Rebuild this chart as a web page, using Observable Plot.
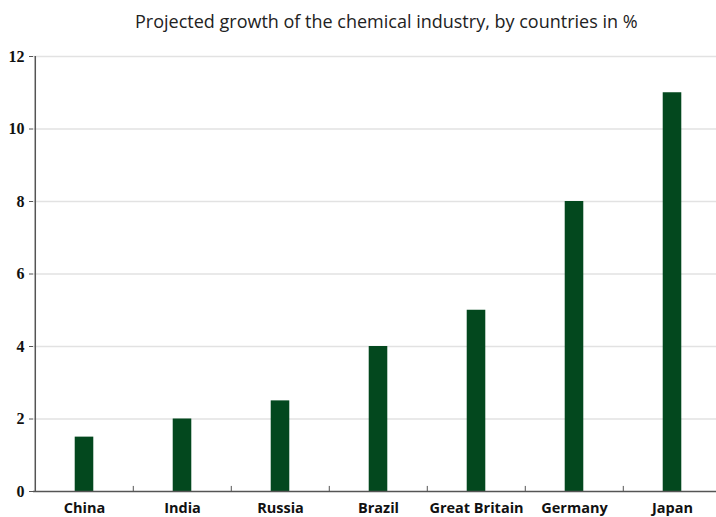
<!DOCTYPE html>
<html><head><meta charset="utf-8">
<script src="https://cdn.jsdelivr.net/npm/d3@7"></script>
<script src="https://cdn.jsdelivr.net/npm/@observablehq/plot@0.6"></script>
<style>
body{margin:0;background:#fff;}
#title{height:40px;width:716px;font-family:"Open Sans",Lato,sans-serif;font-size:18px;color:#222;position:relative;}
#title span{position:absolute;left:135px;top:9px;white-space:nowrap;}
</style></head>
<body>
<div id="title"><span>Projected growth of the chemical industry, by countries in %</span></div>
<div id="chart"></div>
<script>
const countries = ["China","India","Russia","Brazil","Great Britain","Germany","Japan"];
const growth = [1.5, 2, 2.5, 4, 5, 8, 11];
const yTicks = [0, 2, 4, 6, 8, 10, 12];

const data = countries.map((c, i) => ({country: c, value: growth[i]}));
const W = 716, ML = 33, MR = -6;
const step = (W - ML - MR) / countries.length;
const barW = 19;

const chart = Plot.plot({
  width: W, height: 477,
  marginLeft: ML, marginRight: MR, marginTop: 16, marginBottom: 26,
  x: {domain: countries, padding: 0, label: null},
  y: {domain: [0, 12], label: null},
  style: {background: "#fff", overflow: "hidden"},
  marks: [
    Plot.ruleY(yTicks.filter(d => d > 0), {stroke: "#e2e2e2", strokeWidth: 1.5}),
    Plot.barY(data, {x: "country", y: "value", fill: "#03481e", insetLeft: (step - barW) / 2, insetRight: (step - barW) / 2}),
    Plot.axisY({ticks: yTicks, tickSize: 4, tickPadding: 5, stroke: "#555", fontFamily: "'Liberation Serif', serif", fontWeight: "bold", fontSize: 16, fill: "#111"}),
    Plot.axisX({tickSize: 0, tickPadding: 11, fontFamily: "'Open Sans', Lato, sans-serif", fontWeight: "bold", fontSize: 14.5, fill: "#111"}),
    Plot.ruleX(countries.slice(1), {x: d => d, dx: -step / 2, y1: 0, y2: 0.14, stroke: "#555"}),
    Plot.ruleX([countries[0]], {x: d => d, dx: -step / 2, y1: 0, y2: 12, stroke: "#555", strokeWidth: 1.5}),
    Plot.ruleY([0], {stroke: "#555", strokeWidth: 1.5})
  ]
});
document.getElementById("chart").appendChild(chart);
</script>
</body></html>
